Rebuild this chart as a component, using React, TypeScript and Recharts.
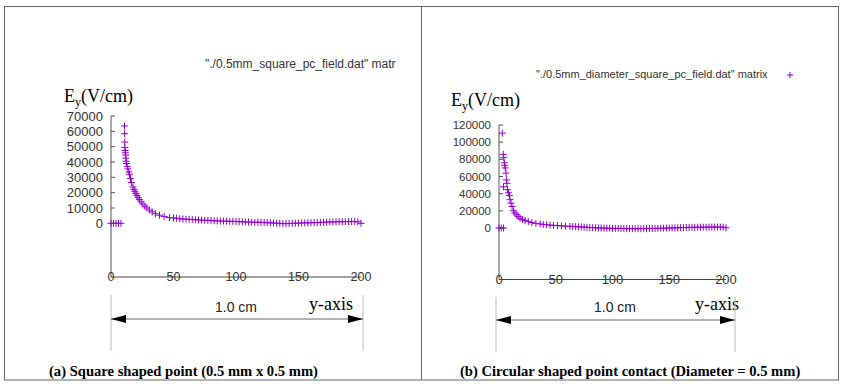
import React from 'react';
import { ScatterChart, Scatter, XAxis, YAxis } from 'recharts';

// tick labels
const xTicks = [0, 50, 100, 150, 200];
const leftYTicks = [0, 10000, 20000, 30000, 40000, 50000, 60000, 70000];
const rightYTicks = [0, 20000, 40000, 60000, 80000, 100000, 120000];

// (a) square point: y position along the axis, Ey in V/cm
const leftX = [
  0, 2, 4, 6, 8,
  10.8, 10.9, 11.0, 11.1, 11.3, 11.5, 11.7, 11.9, 12.1, 12.4, 13.0, 13.5, 14.2, 14.8, 15.6, 16.4,
  17.5, 18.3, 19.1, 19.9, 20.7, 21.7, 22.8, 24.1, 25.5, 27.1, 28.7, 30.7, 32.9, 35.5, 38.8, 42.5, 46.8,
  50, 52.5, 55, 57.5, 60, 62.5, 65, 67.5, 70, 72.5, 75, 77.5, 80, 82.5, 85, 87.5, 90, 92.5, 95, 97.5,
  100, 102.5, 105, 107.5, 110, 112.5, 115, 117.5, 120, 122.5, 125, 127.5, 130, 132.5, 135, 137.5,
  140, 142.5, 145, 147.5, 150, 152.5, 155, 157.5, 160, 162.5, 165, 167.5, 170, 172.5, 175, 177.5,
  180, 182.5, 185, 187.5, 190, 192.5, 195, 197.5, 200,
];
const leftEy = [
  0, 0, 0, 0, 0,
  63500, 58500, 53000, 49500, 47500, 46000, 44500, 42500, 40500, 39000, 37000, 35500, 33500, 32000, 29300, 26600,
  23700, 22200, 20900, 19500, 18200, 16800, 15500, 14000, 12600, 11200, 10000, 8700, 7500, 6300, 5300, 4500, 3800,
  3500, 3300, 3000, 2800, 2700, 2600, 2500, 2300, 2200, 2100, 2000, 1900, 1800, 1700, 1600, 1500, 1500, 1400, 1300, 1300,
  1200, 1100, 1000, 900, 900, 800, 700, 700, 600, 500, 400, 300, 200, 100, 0, -200,
  -200, -100, 0, 100, 100, 200, 300, 300, 400, 500, 500, 600, 700, 800, 900, 900,
  1000, 1000, 1100, 1100, 1100, 1200, 1100, 1000, 0,
];

// (b) circular point contact
const rightX = [
  0, 2, 4,
  2.9, 3.8, 3.9, 4.2, 4.7, 5.0, 5.6, 6.2, 6.5, 7.0, 7.4, 8.3, 9.2, 9.7, 10.6, 11.5, 12.7, 14.0, 15.6,
  17.0, 18.6, 20.7, 23, 25.8, 28.9, 32.5, 36.3, 39, 42, 45, 48, 51.5, 55, 58.5, 62.5,
  65, 67.5, 70, 72.5, 75, 77.5, 80, 82.5, 85, 87.5, 90, 92.5, 95, 97.5,
  100, 102.5, 105, 107.5, 110, 112.5, 115, 117.5, 120, 122.5, 125, 127.5, 130, 132.5, 135, 137.5,
  140, 142.5, 145, 147.5, 150, 152.5, 155, 157.5, 160, 162.5, 165, 167.5, 170, 172.5, 175, 177.5,
  180, 182.5, 185, 187.5, 190, 192.5, 195, 197.5, 200,
];
const rightEy = [
  0, 0, 0,
  110500, 85800, 48000, 82000, 76000, 73000, 70000, 64000, 56000, 52000, 44700, 41000, 38000, 33000, 29000, 25000, 20000, 17500, 15300,
  13200, 11400, 10000, 8600, 7400, 6300, 5400, 4700, 4200, 3800, 3400, 3100, 2800, 2500, 2200, 2000,
  1800, 1600, 1400, 1200, 1000, 800, 600, 400, 300, 100, 0, -100, -200, -300,
  -400, -500, -500, -600, -600, -700, -700, -800, -800, -800, -800, -700, -700, -600, -600, -500,
  -400, -300, -200, -100, 0, 100, 200, 300, 400, 500, 600, 700, 800, 800, 900, 900,
  1000, 1000, 1000, 1100, 1100, 1100, 1100, 1000, 200,
];

const leftData = leftX.map((x, i) => ({ x, ey: leftEy[i] }));
const rightData = rightX.map((x, i) => ({ x, ey: rightEy[i] }));

const PURPLE = '#9400d3';
const SANS = '"Liberation Sans", Arial, sans-serif';
const SERIF = '"Liberation Serif", "Times New Roman", serif';

function Plus(props: any) {
  const { cx, cy } = props;
  if (cx == null || cy == null) return null;
  return (
    <path d={`M${cx - 3.5},${cy}h7M${cx},${cy - 3.5}v7`} stroke={PURPLE} strokeWidth={1} fill="none" />
  );
}

const yTick = (fontSize: number) => (props: any) => {
  const { x, y, payload } = props;
  return (
    <g>
      <line x1={x + 8} x2={x + 12} y1={y} y2={y} stroke="#555" />
      <text x={x} y={y} dy="0.35em" textAnchor="end" fontSize={fontSize} fill="#333" fontFamily={SANS}>
        {payload.value}
      </text>
    </g>
  );
};

const xTick = (fontSize: number) => (props: any) => {
  const { x, y, payload } = props;
  return (
    <text x={x} y={y - 8} dy="0.35em" textAnchor="middle" fontSize={fontSize} fill="#333" fontFamily={SANS}>
      {payload.value}
    </text>
  );
};

function Arrow({ x1, x2, y, top, bottom }: { x1: number; x2: number; y: number; top: number; bottom: number }) {
  return (
    <g>
      <line x1={x1} x2={x1} y1={top} y2={bottom} stroke="#bbb" />
      <line x1={x2} x2={x2} y1={top} y2={bottom} stroke="#bbb" />
      <line x1={x1} x2={x2} y1={y} y2={y} stroke="#666" />
      <polygon points={`${x1},${y} ${x1 + 15},${y - 4} ${x1 + 15},${y + 4}`} fill="#000" />
      <polygon points={`${x2},${y} ${x2 - 15},${y - 4} ${x2 - 15},${y + 4}`} fill="#000" />
    </g>
  );
}

export default function App() {
  return (
    <div style={{ position: 'absolute', left: 0, top: 0, width: 846, height: 386, background: '#fff' }}>
      <div style={{ position: 'absolute', left: 0, top: 0 }}>
        <ScatterChart width={421} height={386} margin={{ top: 116, right: 60, bottom: 79, left: 51 }}>
          <XAxis
            type="number"
            dataKey="x"
            domain={[0, 200]}
            ticks={xTicks}
            interval={0}
            tickLine={false}
            axisLine={{ stroke: '#444' }}
            tick={xTick(12.5)}
          />
          <YAxis
            type="number"
            dataKey="ey"
            domain={[-35000, 70000]}
            ticks={leftYTicks}
            interval={0}
            tickLine={false}
            axisLine={{ stroke: '#555' }}
            tick={yTick(13)}
          />
          <Scatter data={leftData} shape={Plus} isAnimationActive={false} />
        </ScatterChart>
      </div>
      <div style={{ position: 'absolute', left: 421, top: 0 }}>
        <ScatterChart width={425} height={386} margin={{ top: 125, right: 120, bottom: 76.5, left: 18 }}>
          <XAxis
            type="number"
            dataKey="x"
            domain={[0, 200]}
            ticks={xTicks}
            interval={0}
            tickLine={false}
            axisLine={{ stroke: '#444' }}
            tick={xTick(13)}
          />
          <YAxis
            type="number"
            dataKey="ey"
            domain={[-60000, 120000]}
            ticks={rightYTicks}
            interval={0}
            tickLine={false}
            axisLine={{ stroke: '#555' }}
            tick={yTick(11.5)}
          />
          <Scatter data={rightData} shape={Plus} isAnimationActive={false} />
        </ScatterChart>
      </div>
      <svg width={846} height={386} style={{ position: 'absolute', left: 0, top: 0, pointerEvents: 'none' }}>
        <rect x={4.5} y={6.5} width={834} height={373.5} fill="none" stroke="#666" />
        <line x1={421.5} x2={421.5} y1={6.5} y2={380} stroke="#666" />

        <text x={205} y={68} fontSize={12} fill="#333" fontFamily={SANS}>"./0.5mm_square_pc_field.dat" matr</text>
        <text x={536} y={78} fontSize={11} fill="#333" fontFamily={SANS}>"./0.5mm_diameter_square_pc_field.dat" matrix</text>
        <path d="M787,75h6M790,72v6" stroke={PURPLE} strokeWidth={1} />

        <text x={64} y={102} fontSize={18} fill="#000" fontFamily={SERIF}>
          E<tspan dy={4} fontSize={12}>y</tspan><tspan dy={-4}>(V/cm)</tspan>
        </text>
        <text x={451} y={106} fontSize={18} fill="#000" fontFamily={SERIF}>
          E<tspan dy={4} fontSize={12}>y</tspan><tspan dy={-4}>(V/cm)</tspan>
        </text>

        <text x={215} y={312} fontSize={14} fill="#222" fontFamily={SANS}>1.0 cm</text>
        <text x={309} y={310} fontSize={18} fill="#000" fontFamily={SERIF}>y-axis</text>
        <Arrow x1={111} x2={363} y={319} top={295} bottom={351} />

        <text x={594} y={312} fontSize={14} fill="#222" fontFamily={SANS}>1.0 cm</text>
        <text x={695} y={310} fontSize={18} fill="#000" fontFamily={SERIF}>y-axis</text>
        <Arrow x1={496} x2={735} y={320} top={297} bottom={352} />

        <text x={49} y={376} fontSize={14.6} fontWeight="bold" fill="#000" fontFamily={SERIF}>
          (a) Square shaped point (0.5 mm x 0.5 mm)
        </text>
        <text x={460} y={376} fontSize={14.6} fontWeight="bold" fill="#000" fontFamily={SERIF}>
          (b) Circular shaped point contact (Diameter = 0.5 mm)
        </text>
      </svg>
    </div>
  );
}
